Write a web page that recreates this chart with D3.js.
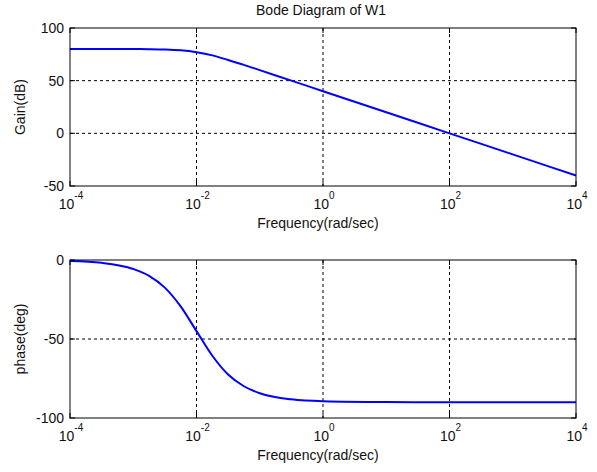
<!DOCTYPE html>
<html>
<head>
<meta charset="utf-8">
<script src="https://cdn.jsdelivr.net/npm/d3@7"></script>
<style>
  body { margin: 0; background: #fff; }
  text { font-family: "Liberation Sans", Arial, sans-serif; fill: #111; }
</style>
</head>
<body>
<svg width="597" height="472"></svg>
<script>
// values
var freqs = [1e-4, 3.16e-4, 1e-3, 1.78e-3, 3.16e-3, 5.62e-3, 1e-2, 1.78e-2, 3.16e-2, 5.62e-2, 1e-1, 3.16e-1, 1, 10, 100, 1000, 10000]
var gainDb = [80, 80, 80, 79.9, 79.6, 78.8, 77, 74, 69.6, 65, 60, 50, 40, 20, 0, -20, -40]
var phaseDeg = [-0.6, -1.8, -5.7, -10, -17.5, -29.4, -45, -60.6, -72.5, -79.9, -84.3, -88.2, -89.4, -89.9, -90, -90, -90]
var xTickExp = [-4, -2, 0, 2, 4]
var gainTicks = [100, 50, 0, -50]
var phaseTicks = [0, -50, -100]

var svg = d3.select("svg")
var left = 70, right = 576

var x = d3.scaleLog().domain([1e-4, 1e4]).range([left, right])

function drawPanel(top, bottom, yDomain, yTicks, values, yLabel) {
	var y = d3.scaleLinear().domain(yDomain).range([bottom, top])
	var g = svg.append("g")

	// dotted grid
	xTickExp.forEach(function (e) {
		var xx = x(Math.pow(10, e))
		if (xx > left + 1 && xx < right - 1)
			g.append("line").attr("x1", xx).attr("x2", xx).attr("y1", top).attr("y2", bottom)
				.attr("stroke", "#000").attr("stroke-dasharray", "3,3").attr("stroke-width", 1)
	})
	yTicks.forEach(function (t) {
		var yy = y(t)
		if (yy > top + 1 && yy < bottom - 1)
			g.append("line").attr("x1", left).attr("x2", right).attr("y1", yy).attr("y2", yy)
				.attr("stroke", "#000").attr("stroke-dasharray", "3,3").attr("stroke-width", 1)
	})

	// inward ticks
	xTickExp.forEach(function (e) {
		var xx = x(Math.pow(10, e))
		g.append("line").attr("x1", xx).attr("x2", xx).attr("y1", bottom).attr("y2", bottom - 5).attr("stroke", "#000")
		g.append("line").attr("x1", xx).attr("x2", xx).attr("y1", top).attr("y2", top + 5).attr("stroke", "#000")
	})
	yTicks.forEach(function (t) {
		var yy = y(t)
		g.append("line").attr("x1", left).attr("x2", left + 5).attr("y1", yy).attr("y2", yy).attr("stroke", "#000")
		g.append("line").attr("x1", right).attr("x2", right - 5).attr("y1", yy).attr("y2", yy).attr("stroke", "#000")
	})

	// curve
	var line = d3.line()
		.x(function (d) { return x(d[0]) })
		.y(function (d) { return y(d[1]) })
		.curve(d3.curveMonotoneX)
	g.append("path")
		.datum(freqs.map(function (f, i) { return [f, values[i]] }))
		.attr("d", line)
		.attr("fill", "none")
		.attr("stroke", "#0000ff")
		.attr("stroke-width", 2)

	// box
	g.append("rect").attr("x", left).attr("y", top).attr("width", right - left).attr("height", bottom - top)
		.attr("fill", "none").attr("stroke", "#000").attr("stroke-width", 1)

	// y tick labels
	yTicks.forEach(function (t) {
		g.append("text").attr("x", left - 6).attr("y", y(t) + 5)
			.attr("text-anchor", "end").style("font-size", "14px").text(t)
	})

	// x tick labels
	xTickExp.forEach(function (e) {
		var xx = x(Math.pow(10, e))
		var tx = g.append("text").attr("x", xx + 1).attr("y", bottom + 23)
			.attr("text-anchor", "middle").style("font-size", "14px")
		tx.append("tspan").text("10")
		tx.append("tspan").attr("dy", -10).style("font-size", "10px").text(e)
	})

	g.append("text").attr("x", (left + right) / 2 - 5).attr("y", bottom + 42)
		.attr("text-anchor", "middle").style("font-size", "14px").text("Frequency(rad/sec)")

	g.append("text")
		.attr("transform", "translate(25," + ((top + bottom) / 2) + ") rotate(-90)")
		.attr("text-anchor", "middle").style("font-size", "14px").text(yLabel)
}

drawPanel(28, 186, [-50, 100], gainTicks, gainDb, "Gain(dB)")
drawPanel(260, 418, [-100, 0], phaseTicks, phaseDeg, "phase(deg)")

svg.append("text").attr("x", (left + right) / 2 - 2).attr("y", 15)
	.attr("text-anchor", "middle").style("font-size", "14px").text("Bode Diagram of W1")
</script>
</body>
</html>
